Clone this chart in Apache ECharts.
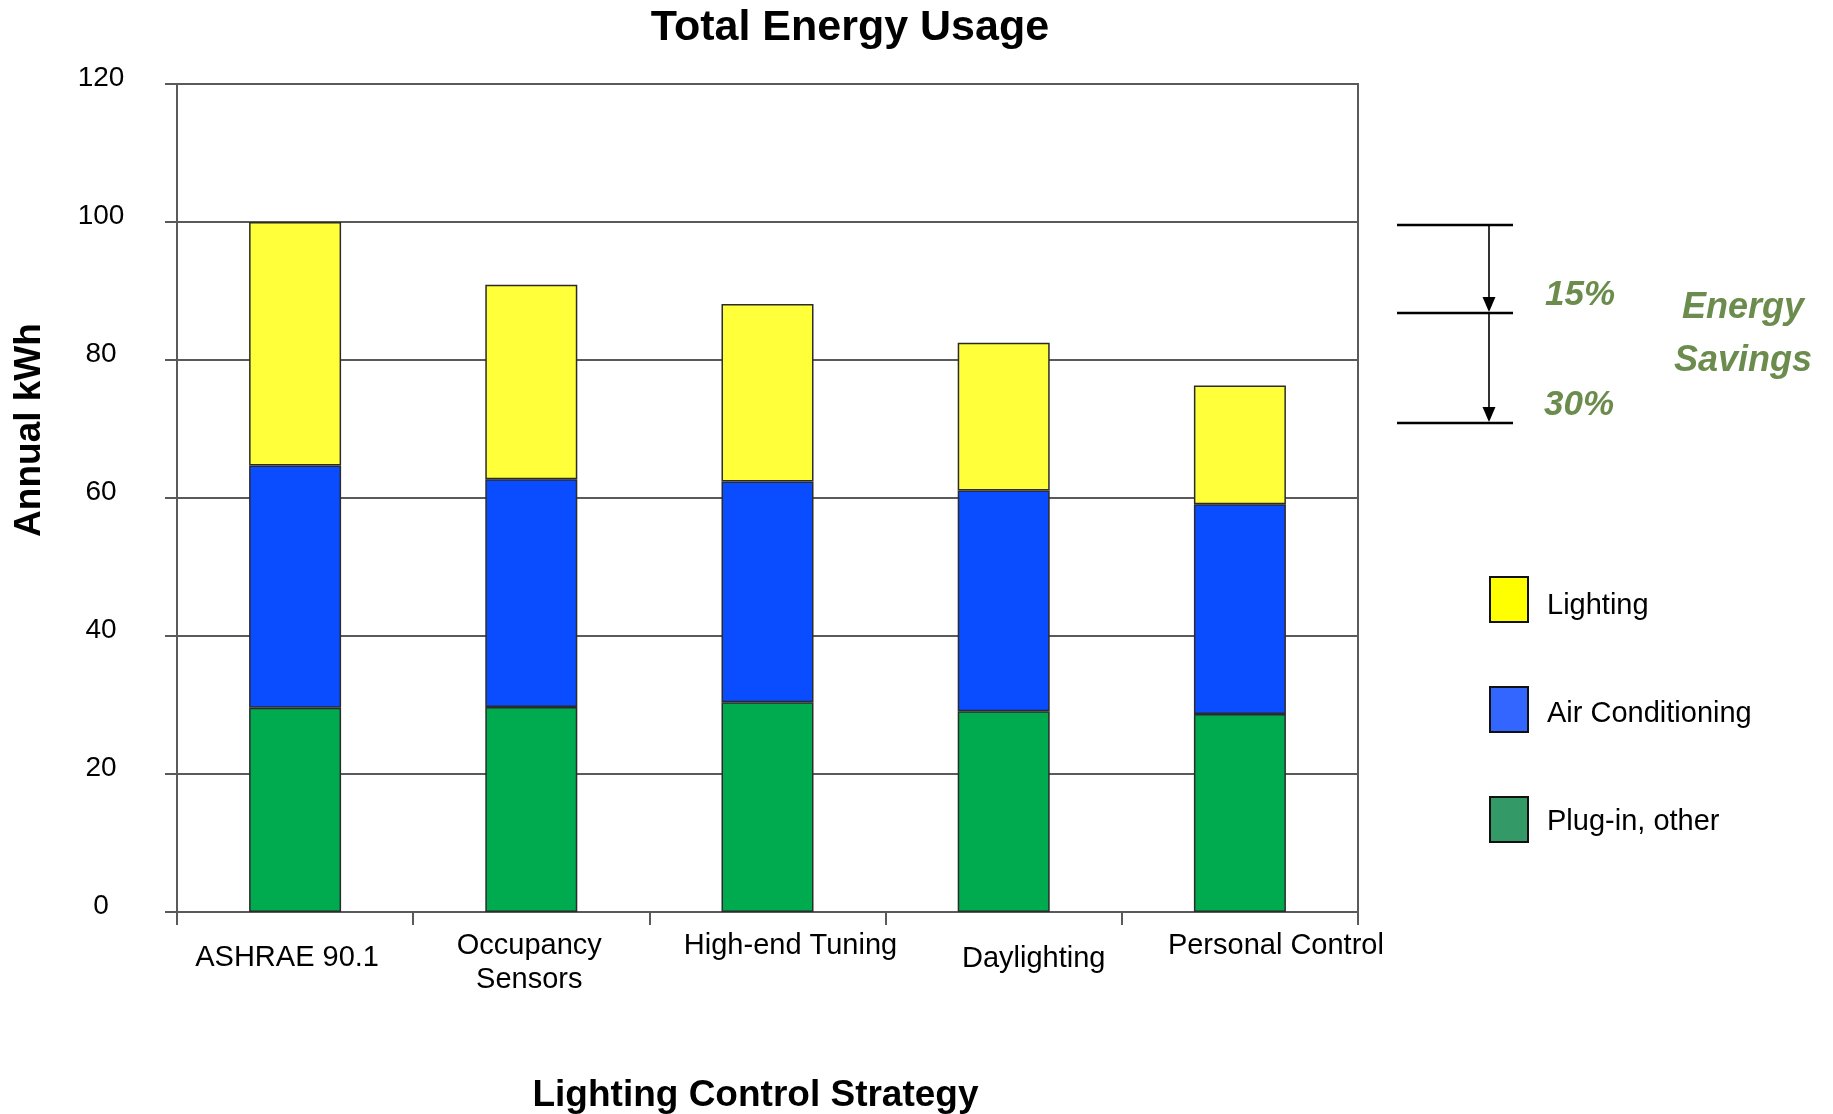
<!DOCTYPE html>
<html>
<head>
<meta charset="utf-8">
<title>Total Energy Usage</title>
<script src="https://cdn.jsdelivr.net/npm/echarts@6/dist/echarts.min.js"></script>
<style>
  html, body { margin: 0; padding: 0; background: #ffffff; }
  #chart { width: 1833px; height: 1114px; }
</style>
</head>
<body>
<div id="chart"></div>
<script>
// Annual energy use per lighting control strategy, split by end use
const categories = ['ASHRAE 90.1', 'Occupancy\nSensors', 'High-end Tuning', 'Daylighting', 'Personal Control'];
const plugIn = [29.6, 29.7, 30.4, 29.1, 28.7];
const airConditioning = [35.1, 33.0, 32.0, 32.0, 30.4];
const lighting = [35.3, 28.2, 25.7, 21.4, 17.2];

// Value axis range
const yMin = 0;
const yMax = 120;
const yStep = 20;

// Savings bracket labels
const savingsLabels = ['15%', '30%'];

// Per-label nudges for the category captions (horizontal, extra top space)
const labelNudge = [
  { dx: -8, dy: 12 },
  { dx: -2, dy: 0 },
  { dx: 23, dy: 0 },
  { dx: 30, dy: 13 },
  { dx: 36, dy: 0 }
];

const FONT = "'Liberation Sans', Arial, Helvetica, sans-serif";
const GRID_COLOR = '#5a5a5a';
const NOTE_GREEN = '#6b8c4d';

const categoryData = categories.map(function (name, i) {
  const n = labelNudge[i];
  const left = n.dx > 0 ? 2 * n.dx : 0;
  const right = n.dx < 0 ? -2 * n.dx : 0;
  return { value: name, textStyle: { padding: [n.dy, right, 0, left] } };
});

const barBorder = { borderColor: '#2b2b2b', borderWidth: 1.5 };

// Legend swatches and captions
const legendEntries = [
  { name: 'Lighting', color: '#ffff00' },
  { name: 'Air Conditioning', color: '#3366ff' },
  { name: 'Plug-in, other', color: '#339966' }
];

const chart = echarts.init(document.getElementById('chart'), null, { renderer: 'canvas' });

const option = {
  animation: false,
  backgroundColor: '#ffffff',
  textStyle: { fontFamily: FONT },
  grid: {
    left: 177, top: 84, width: 1181, height: 828,
    outerBoundsMode: 'none', containLabel: false,
    show: true, borderColor: GRID_COLOR, borderWidth: 2, backgroundColor: 'transparent'
  },
  legend: [
    // swatches
    {
      orient: 'vertical',
      left: 1489,
      top: 576,
      padding: 0,
      itemWidth: 38,
      itemHeight: 45,
      itemGap: 63,
      icon: 'rect',
      selectedMode: false,
      formatter: function () { return ''; },
      data: legendEntries.map(function (e) {
        return { name: e.name, itemStyle: { color: e.color, borderColor: '#111', borderWidth: 2 } };
      })
    },
    // captions, sitting a little below the swatch centres
    {
      orient: 'vertical',
      left: 1541,
      top: 583,
      padding: 0,
      itemWidth: 1,
      itemHeight: 45,
      itemGap: 63,
      icon: 'rect',
      selectedMode: false,
      textStyle: { fontSize: 29, color: '#000', fontFamily: FONT },
      data: legendEntries.map(function (e) {
        return { name: e.name, itemStyle: { color: 'rgba(0,0,0,0)', borderWidth: 0 } };
      })
    }
  ],
  xAxis: {
    type: 'category',
    data: categoryData,
    boundaryGap: true,
    name: 'Lighting Control Strategy',
    nameLocation: 'middle',
    nameGap: 165,
    nameTextStyle: { fontSize: 37, fontWeight: 'bold', color: '#000', fontFamily: FONT, padding: [0, 24, 0, 0] },
    axisLine: { show: true, lineStyle: { color: GRID_COLOR, width: 2 } },
    axisTick: { show: true, alignWithLabel: false, length: 13, lineStyle: { color: GRID_COLOR, width: 2 } },
    axisLabel: { interval: 0, margin: 17, fontSize: 29, lineHeight: 34, color: '#000', fontFamily: FONT, align: 'center' },
    splitLine: { show: false }
  },
  yAxis: {
    type: 'value',
    min: yMin,
    max: yMax,
    interval: yStep,
    name: 'Annual kWh',
    nameLocation: 'middle',
    nameGap: 129,
    nameTextStyle: { fontSize: 37, fontWeight: 'bold', color: '#000', fontFamily: FONT, padding: [0, 0, 0, 136] },
    axisLine: { show: true, lineStyle: { color: GRID_COLOR, width: 2 } },
    axisTick: { show: true, length: 12, lineStyle: { color: GRID_COLOR, width: 2 } },
    axisLabel: { margin: 76, align: 'center', verticalAlign: 'bottom', lineHeight: 11, fontSize: 28, color: '#000', fontFamily: FONT },
    splitLine: { show: true, lineStyle: { color: GRID_COLOR, width: 2 } }
  },
  series: [
    {
      name: 'Plug-in, other', type: 'bar', stack: 'total', barWidth: 92,
      itemStyle: Object.assign({ color: '#00aa4e' }, barBorder),
      data: plugIn
    },
    {
      name: 'Air Conditioning', type: 'bar', stack: 'total', barWidth: 92,
      itemStyle: Object.assign({ color: '#0a4cff' }, barBorder),
      data: airConditioning
    },
    {
      name: 'Lighting', type: 'bar', stack: 'total', barWidth: 92,
      itemStyle: Object.assign({ color: '#ffff3a' }, barBorder),
      data: lighting
    }
  ],
  graphic: [
    // Chart title
    {
      type: 'text',
      style: { x: 850, y: 28, text: 'Total Energy Usage', align: 'center', verticalAlign: 'middle',
               font: 'bold 43px ' + FONT, fill: '#000' }
    },
    // Savings bracket: reference lines
    { type: 'line', shape: { x1: 1397, y1: 225, x2: 1513, y2: 225 }, style: { stroke: '#000', lineWidth: 2.5 } },
    { type: 'line', shape: { x1: 1397, y1: 313, x2: 1513, y2: 313 }, style: { stroke: '#000', lineWidth: 2.5 } },
    { type: 'line', shape: { x1: 1397, y1: 423, x2: 1513, y2: 423 }, style: { stroke: '#000', lineWidth: 2.5 } },
    // Savings bracket: arrows
    { type: 'line', shape: { x1: 1489, y1: 225, x2: 1489, y2: 300 }, style: { stroke: '#000', lineWidth: 1.6 } },
    { type: 'polygon', shape: { points: [[1482.5, 297], [1495.5, 297], [1489, 312]] }, style: { fill: '#000' } },
    { type: 'line', shape: { x1: 1489, y1: 313, x2: 1489, y2: 410 }, style: { stroke: '#000', lineWidth: 1.6 } },
    { type: 'polygon', shape: { points: [[1482.5, 407], [1495.5, 407], [1489, 422]] }, style: { fill: '#000' } },
    // Savings captions
    {
      type: 'text',
      style: { x: 1580, y: 295, text: savingsLabels[0], align: 'center', verticalAlign: 'middle',
               font: 'italic bold 35px ' + FONT, fill: NOTE_GREEN }
    },
    {
      type: 'text',
      style: { x: 1579, y: 405, text: savingsLabels[1], align: 'center', verticalAlign: 'middle',
               font: 'italic bold 35px ' + FONT, fill: NOTE_GREEN }
    },
    {
      type: 'text',
      style: { x: 1743, y: 308, text: 'Energy', align: 'center', verticalAlign: 'middle',
               font: 'italic bold 36px ' + FONT, fill: NOTE_GREEN }
    },
    {
      type: 'text',
      style: { x: 1743, y: 361, text: 'Savings', align: 'center', verticalAlign: 'middle',
               font: 'italic bold 36px ' + FONT, fill: NOTE_GREEN }
    }
  ]
};

chart.setOption(option);
</script>
</body>
</html>
